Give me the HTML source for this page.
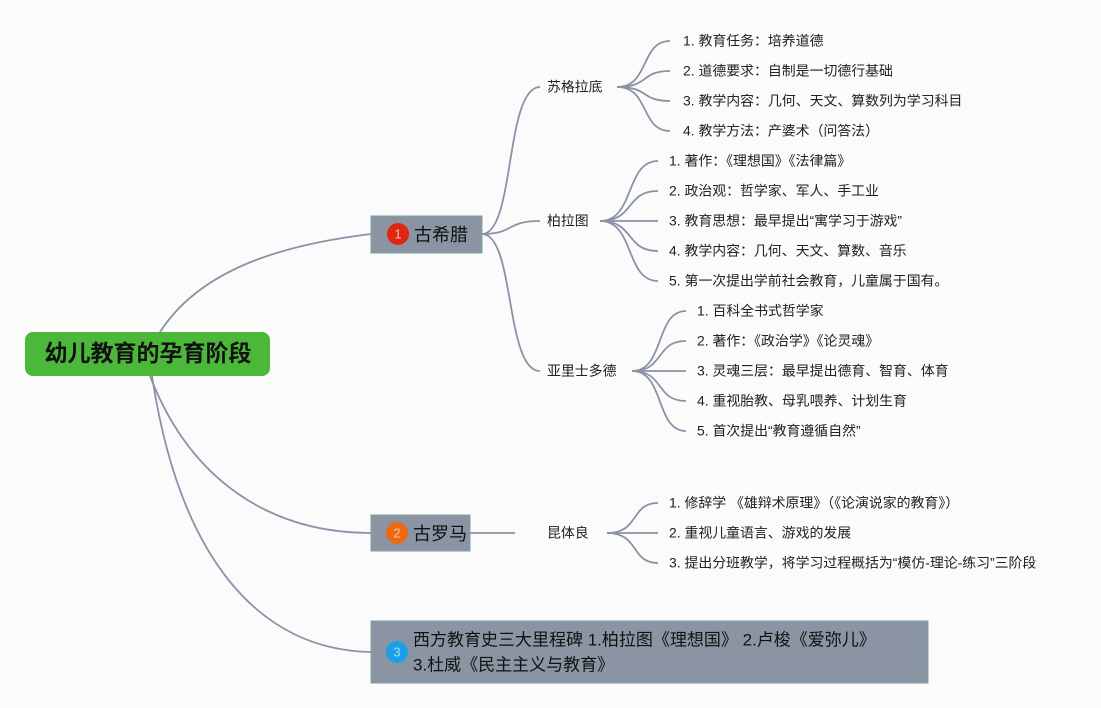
<!DOCTYPE html>
<html><head><meta charset="utf-8"><style>
body{margin:0;background:#fbfbfc;}
svg{display:block;font-family:"Liberation Sans","Noto Sans CJK SC",sans-serif;}
.c{fill:none;stroke:#8a93a6;stroke-width:1.8}
.t{font-size:13.9px;fill:#222;dominant-baseline:middle}
</style></head><body>
<svg width="1101" height="708" viewBox="0 0 1101 708">
<rect width="1101" height="708" fill="#fbfbfc"/>
<path class="c" d="M160,332 C200,270 280,245 371,234"/>
<path class="c" d="M150,376 C190,480 270,533 371,533"/>
<path class="c" d="M152,376 C180,560 260,650 371,652"/>
<path class="c" d="M482,234 C515,234 505,87 540,87"/>
<path class="c" d="M482,234 C515,234 505,221 540,221"/>
<path class="c" d="M482,234 C515,234 505,371 540,371"/>
<path class="c" d="M470,533 L515,533"/>
<g>
<path class="c" d="M617,87 C650,87 640,41 670,41"/>
<path class="c" d="M617,87 C650,87 640,71 670,71"/>
<path class="c" d="M617,87 C650,87 640,101 670,101"/>
<path class="c" d="M617,87 C650,87 640,131 670,131"/>
</g>
<g>
<path class="c" d="M600,221 C635,221 625,161 658,161"/>
<path class="c" d="M600,221 C635,221 625,191 658,191"/>
<path class="c" d="M600,221 L658,221"/>
<path class="c" d="M600,221 C635,221 625,251 658,251"/>
<path class="c" d="M600,221 C635,221 625,281 658,281"/>
</g>
<g>
<path class="c" d="M632,371 C665,371 655,311 686,311"/>
<path class="c" d="M632,371 C665,371 655,341 686,341"/>
<path class="c" d="M632,371 L686,371"/>
<path class="c" d="M632,371 C665,371 655,401 686,401"/>
<path class="c" d="M632,371 C665,371 655,431 686,431"/>
</g>
<g>
<path class="c" d="M607,533 C640,533 630,503 658,503"/>
<path class="c" d="M607,533 L658,533"/>
<path class="c" d="M607,533 C640,533 630,563 658,563"/>
</g>
<rect x="25" y="332" width="245" height="44" rx="8" fill="#4cb83a"/>
<text x="148" y="355" text-anchor="middle" dominant-baseline="middle" font-size="23" font-weight="bold" fill="#111">幼儿教育的孕育阶段</text>
<rect x="371" y="216" width="111" height="37" fill="#8a94a3" stroke="#7aa3a0"/>
<circle cx="398" cy="234" r="11" fill="#e0260f"/>
<text x="398" y="235" text-anchor="middle" dominant-baseline="middle" font-size="13" fill="#f3c0b8">1</text>
<text x="414" y="236" dominant-baseline="middle" font-size="18" fill="#111">古希腊</text>
<rect x="371" y="515" width="99" height="36" fill="#8a94a3" stroke="#7aa3a0"/>
<circle cx="397" cy="533" r="11" fill="#ee6a12"/>
<text x="397" y="534" text-anchor="middle" dominant-baseline="middle" font-size="13" fill="#f7c39c">2</text>
<text x="413" y="535" dominant-baseline="middle" font-size="18" fill="#111">古罗马</text>
<rect x="371" y="621" width="557" height="62" fill="#8a94a3" stroke="#7aa3a0"/>
<circle cx="397" cy="652" r="11" fill="#1ba0e8"/>
<text x="397" y="653" text-anchor="middle" dominant-baseline="middle" font-size="13" fill="#a8daf5">3</text>
<text x="413" y="641" dominant-baseline="middle" font-size="17" fill="#111">西方教育史三大里程碑 1.柏拉图《理想国》 2.卢梭《爱弥儿》</text>
<text x="413" y="666" dominant-baseline="middle" font-size="17" fill="#111">3.杜威《民主主义与教育》</text>
<text class="t" x="547" y="88">苏格拉底</text>
<text class="t" x="547" y="222">柏拉图</text>
<text class="t" x="547" y="372">亚里士多德</text>
<text class="t" x="547" y="534">昆体良</text>
<text class="t" x="683" y="42">1. 教育任务：培养道德</text>
<text class="t" x="683" y="72">2. 道德要求：自制是一切德行基础</text>
<text class="t" x="683" y="102">3. 教学内容：几何、天文、算数列为学习科目</text>
<text class="t" x="683" y="132">4. 教学方法：产婆术（问答法）</text>
<text class="t" x="669" y="162">1. 著作：《理想国》《法律篇》</text>
<text class="t" x="669" y="192">2. 政治观：哲学家、军人、手工业</text>
<text class="t" x="669" y="222">3. 教育思想：最早提出“寓学习于游戏”</text>
<text class="t" x="669" y="252">4. 教学内容：几何、天文、算数、音乐</text>
<text class="t" x="669" y="282">5. 第一次提出学前社会教育，儿童属于国有。</text>
<text class="t" x="697" y="312">1. 百科全书式哲学家</text>
<text class="t" x="697" y="342">2. 著作：《政治学》《论灵魂》</text>
<text class="t" x="697" y="372">3. 灵魂三层：最早提出德育、智育、体育</text>
<text class="t" x="697" y="402">4. 重视胎教、母乳喂养、计划生育</text>
<text class="t" x="697" y="432">5. 首次提出“教育遵循自然”</text>
<text class="t" x="669" y="504">1. 修辞学 《雄辩术原理》（《论演说家的教育》）</text>
<text class="t" x="669" y="534">2. 重视儿童语言、游戏的发展</text>
<text class="t" x="669" y="564">3. 提出分班教学，将学习过程概括为“模仿-理论-练习”三阶段</text>
</svg>
</body></html>
